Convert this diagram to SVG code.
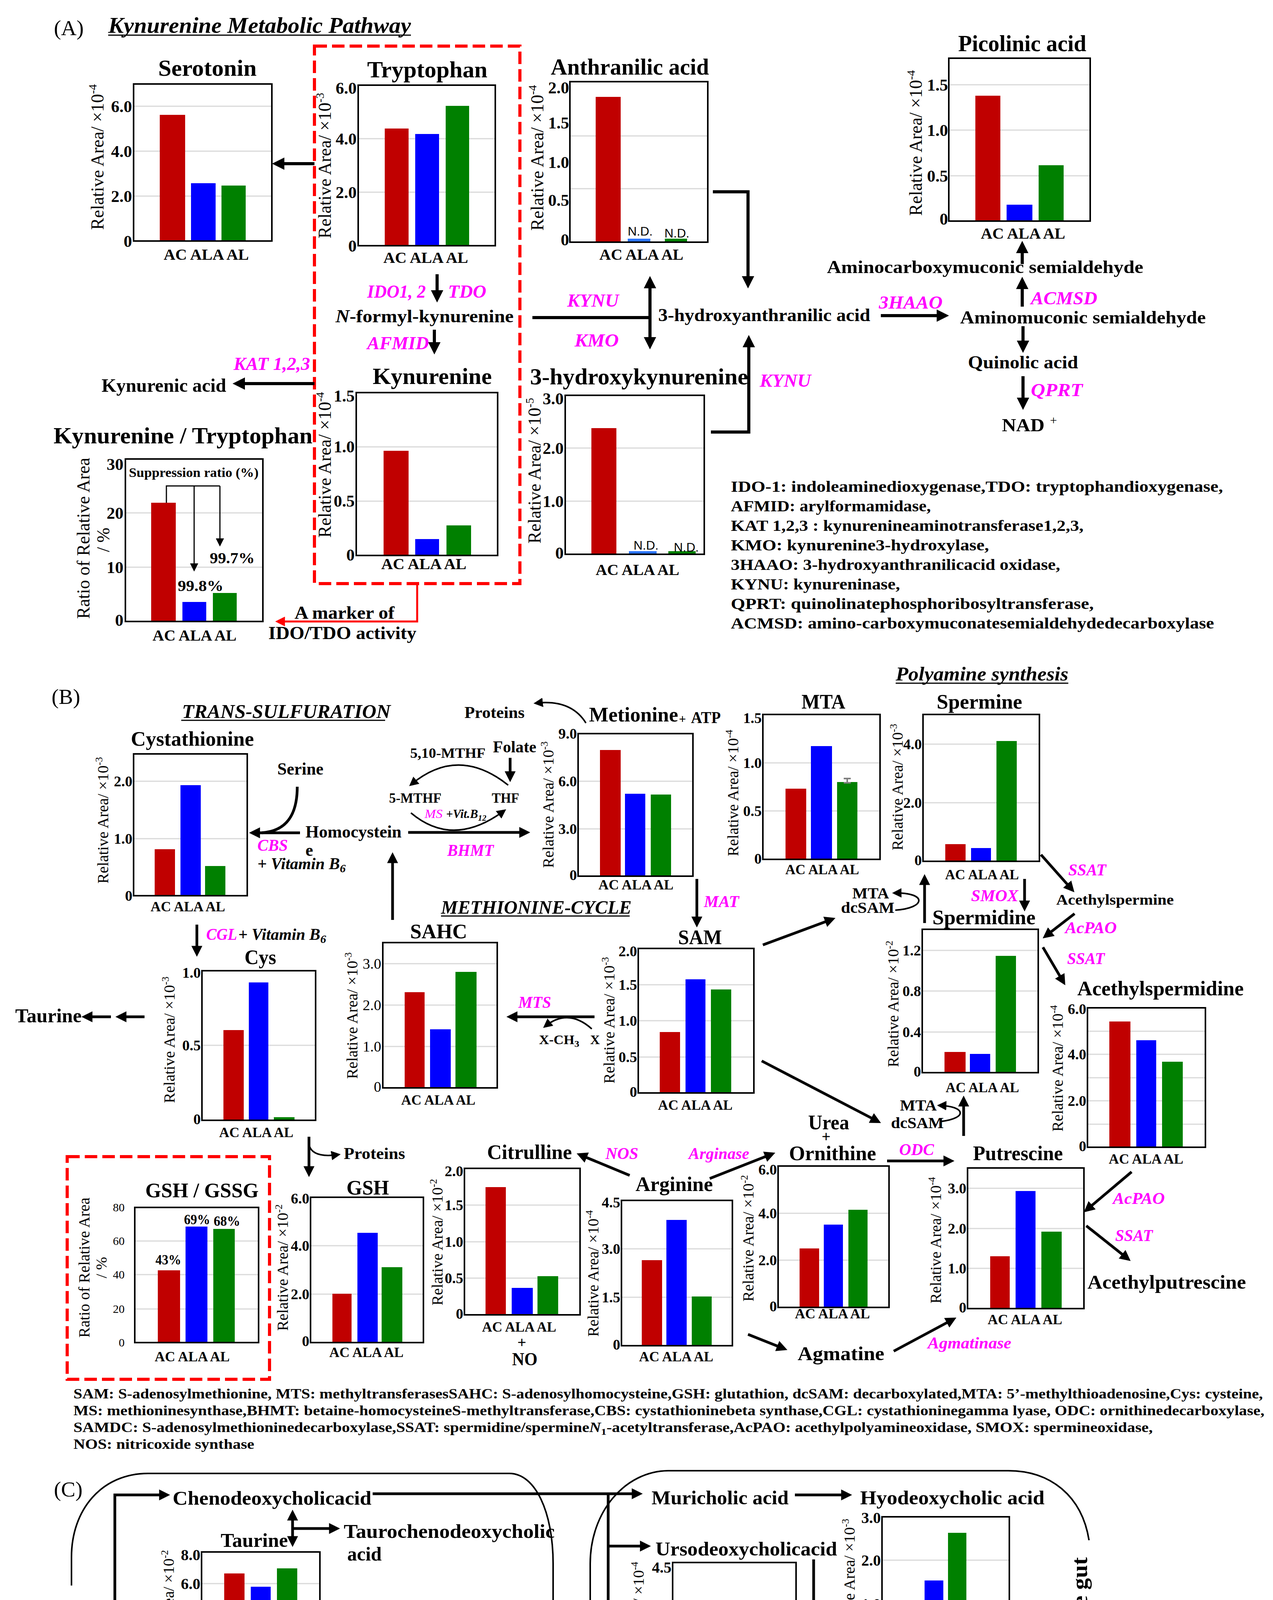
<svg xmlns="http://www.w3.org/2000/svg" width="3259" height="5348" viewBox="0 0 3259 5348">
<style>
text{font-family:"Liberation Serif","Times New Roman",serif;fill:#000}
.fr{fill:none;stroke:#000;stroke-width:4}
.gr{stroke:#d9d9d9;stroke-width:3;fill:none}
.r{fill:#c00000}.b{fill:#0000ff}.g{fill:#008000}.p{fill:#7030a0}.nb{fill:#2b74ff}
.tA{font-size:60px;font-weight:bold}
.tB{font-size:53px;font-weight:bold}
.tC{font-size:50px;font-weight:bold}
.kA{font-size:43px;font-weight:bold;text-anchor:end}
.kB{font-size:38px;font-weight:bold;text-anchor:end}
.kC{font-size:40px;font-weight:bold;text-anchor:end}
.kR{font-size:38px;text-anchor:end}
.kS{font-size:30px;text-anchor:end}
.yA{font-size:46px;text-anchor:middle}
.yB{font-size:40px;text-anchor:middle}
.xA{font-size:40px;font-weight:bold;text-anchor:middle}
.xB{font-size:35px;font-weight:bold;text-anchor:middle}
.en{fill:#ff00ff;font-weight:bold;font-style:italic}
.nl{font-weight:bold}
.bi{font-weight:bold;font-style:italic}
.lg{font-weight:bold}
.sans{font-family:"Liberation Sans",Arial,sans-serif}
.l8{fill:none;stroke:#000;stroke-width:8}
.l7{fill:none;stroke:#000;stroke-width:7}
.l4{fill:none;stroke:#000;stroke-width:4}
.l3{fill:none;stroke:#000;stroke-width:3}
.bx{fill:none;stroke:#000;stroke-width:4}
</style>
<defs>
<marker id="ah" viewBox="0 0 10 10" refX="7" refY="5" markerWidth="4" markerHeight="4" orient="auto-start-reverse"><path d="M0,0L10,5L0,10z"/></marker>
<marker id="ahm" viewBox="0 0 10 10" refX="7" refY="5" markerWidth="6" markerHeight="6" orient="auto-start-reverse"><path d="M0,0L10,5L0,10z"/></marker>
<marker id="ahs" viewBox="0 0 10 10" refX="8" refY="5" markerWidth="7" markerHeight="7" orient="auto"><path d="M0,0L10,5L0,10z"/></marker>
<marker id="ahr" viewBox="0 0 10 10" refX="7" refY="5" markerWidth="5" markerHeight="5" orient="auto"><path d="M0,0L10,5L0,10z" fill="#ff0000"/></marker>
</defs>
<rect width="3259" height="5348" fill="#fff"/>

<!-- ================= SECTION A ================= -->
<g id="sectionA-labels">
<text x="138" y="90" font-size="55">(A)</text>
<text class="bi" x="277" y="84" font-size="56" textLength="775" lengthAdjust="spacingAndGlyphs">Kynurenine Metabolic Pathway</text>
<path class="l3" d="M277 90H1052"/>
<text class="en" x="940" y="762" font-size="46" textLength="150" lengthAdjust="spacingAndGlyphs">IDO1, 2</text>
<text class="en" x="1147" y="762" font-size="46" textLength="98" lengthAdjust="spacingAndGlyphs">TDO</text>
<text class="nl" x="859" y="825" font-size="46" textLength="456" lengthAdjust="spacingAndGlyphs"><tspan font-style="italic">N</tspan>-formyl-kynurenine</text>
<text class="en" x="940" y="894" font-size="46" textLength="158" lengthAdjust="spacingAndGlyphs">AFMID</text>
<text class="nl" x="260" y="1003" font-size="48" textLength="319" lengthAdjust="spacingAndGlyphs">Kynurenic acid</text>
<text class="en" x="598" y="947" font-size="46" textLength="196" lengthAdjust="spacingAndGlyphs">KAT 1,2,3</text>
<text class="en" x="1452" y="785" font-size="46" textLength="132" lengthAdjust="spacingAndGlyphs">KYNU</text>
<text class="en" x="1471" y="887" font-size="46" textLength="113" lengthAdjust="spacingAndGlyphs">KMO</text>
<text class="nl" x="1685" y="822" font-size="46" textLength="543" lengthAdjust="spacingAndGlyphs">3-hydroxyanthranilic acid</text>
<text class="en" x="1945" y="990" font-size="46" textLength="131" lengthAdjust="spacingAndGlyphs">KYNU</text>
<text class="en" x="2250" y="790" font-size="46" textLength="163" lengthAdjust="spacingAndGlyphs">3HAAO</text>
<text class="nl" x="2117" y="699" font-size="46" textLength="810" lengthAdjust="spacingAndGlyphs">Aminocarboxymuconic semialdehyde</text>
<text class="en" x="2639" y="779" font-size="46" textLength="170" lengthAdjust="spacingAndGlyphs">ACMSD</text>
<text class="nl" x="2458" y="828" font-size="46" textLength="629" lengthAdjust="spacingAndGlyphs">Aminomuconic semialdehyde</text>
<text class="nl" x="2478" y="943" font-size="46" textLength="282" lengthAdjust="spacingAndGlyphs">Quinolic acid</text>
<text class="en" x="2639" y="1014" font-size="46" textLength="133" lengthAdjust="spacingAndGlyphs">QPRT</text>
<text class="nl" x="2565" y="1104" font-size="46" textLength="109" lengthAdjust="spacingAndGlyphs">NAD</text>
<text x="2688" y="1087" font-size="32">+</text>
<text class="nl" x="754" y="1584" font-size="46" textLength="256" lengthAdjust="spacingAndGlyphs">A marker of</text>
<text class="nl" x="687" y="1636" font-size="46" textLength="379" lengthAdjust="spacingAndGlyphs">IDO/TDO activity</text>
</g>
<g id="legendA" class="lg" font-size="41">
<text x="1871" y="1259" textLength="1260" lengthAdjust="spacingAndGlyphs">IDO-1: indoleaminedioxygenase,TDO: tryptophandioxygenase,</text>
<text x="1871" y="1309" textLength="512" lengthAdjust="spacingAndGlyphs">AFMID: arylformamidase,</text>
<text x="1871" y="1359" textLength="903" lengthAdjust="spacingAndGlyphs">KAT 1,2,3 : kynurenineaminotransferase1,2,3,</text>
<text x="1871" y="1409" textLength="661" lengthAdjust="spacingAndGlyphs">KMO: kynurenine3-hydroxylase,</text>
<text x="1871" y="1459" textLength="843" lengthAdjust="spacingAndGlyphs">3HAAO: 3-hydroxyanthranilicacid oxidase,</text>
<text x="1871" y="1509" textLength="433" lengthAdjust="spacingAndGlyphs">KYNU: kynureninase,</text>
<text x="1871" y="1559" textLength="929" lengthAdjust="spacingAndGlyphs">QPRT: quinolinatephosphoribosyltransferase,</text>
<text x="1871" y="1609" textLength="1237" lengthAdjust="spacingAndGlyphs">ACMSD: amino-carboxymuconatesemialdehydedecarboxylase</text>
</g>

<g id="serotonin">
<text class="tA" x="405" y="194" textLength="252" lengthAdjust="spacingAndGlyphs">Serotonin</text>
<path class="gr" d="M344 502H694M344 387H694M344 272H694"/>
<rect class="r" x="409" y="294" width="65" height="323"/><rect class="b" x="489" y="469" width="63" height="148"/><rect class="g" x="567" y="475" width="62" height="142"/>
<rect class="fr" x="342" y="215" width="354" height="402"/>
<text class="kA" x="338" y="632">0</text><text class="kA" x="338" y="517">2.0</text><text class="kA" x="338" y="402">4.0</text><text class="kA" x="338" y="287">6.0</text>
<text class="yA" transform="translate(249 402) rotate(-90)" y="16">Relative Area/ ×10<tspan dy="-18" font-size="30">-4</tspan></text>
<text class="xA" x="528" y="665" textLength="218" lengthAdjust="spacingAndGlyphs">AC ALA AL</text>
</g>

<g id="tryptophan">
<text class="tA" x="940" y="198" textLength="308" lengthAdjust="spacingAndGlyphs">Tryptophan</text>
<path class="gr" d="M919 492H1266M919 355H1266"/>
<rect class="r" x="985" y="329" width="61" height="300"/><rect class="b" x="1063" y="343" width="61" height="286"/><rect class="g" x="1141" y="271" width="60" height="358"/>
<rect class="fr" x="917" y="218" width="351" height="411"/>
<text class="kA" x="913" y="644">0</text><text class="kA" x="913" y="507">2.0</text><text class="kA" x="913" y="370">4.0</text><text class="kA" x="913" y="240">6.0</text>
<text class="yA" transform="translate(831 424) rotate(-90)" y="16">Relative Area/ ×10<tspan dy="-18" font-size="30">-3</tspan></text>
<text class="xA" x="1090" y="673" textLength="217" lengthAdjust="spacingAndGlyphs">AC ALA AL</text>
</g>

<g id="kynurenine">
<text class="tA" x="954" y="983" textLength="305" lengthAdjust="spacingAndGlyphs">Kynurenine</text>
<path class="gr" d="M914 1283H1272M914 1144H1272"/>
<rect class="r" x="982" y="1154" width="64" height="268"/><rect class="b" x="1063" y="1380" width="61" height="42"/><rect class="g" x="1143" y="1345" width="63" height="77"/>
<rect class="fr" x="912" y="1005" width="362" height="417"/>
<text class="kA" x="908" y="1435">0</text><text class="kA" x="908" y="1297">0.5</text><text class="kA" x="908" y="1158">1.0</text><text class="kA" x="908" y="1028">1.5</text>
<text class="yA" transform="translate(831 1190) rotate(-90)" y="16">Relative Area/ ×10<tspan dy="-18" font-size="30">-4</tspan></text>
<text class="xA" x="1085" y="1457" textLength="218" lengthAdjust="spacingAndGlyphs">AC ALA AL</text>
</g>

<g id="anthranilic">
<text class="tA" x="1410" y="191" textLength="405" lengthAdjust="spacingAndGlyphs">Anthranilic acid</text>
<path class="gr" d="M1461 348H1810M1461 483H1810"/>
<rect class="r" x="1525" y="248" width="64" height="372"/><rect class="nb" x="1607" y="611" width="58" height="9"/><rect class="g" x="1702" y="611" width="57" height="9"/>
<rect class="fr" x="1459" y="209" width="353" height="411"/>
<text class="sans" x="1607" y="603" font-size="32">N.D.</text><text class="sans" x="1701" y="608" font-size="32">N.D.</text>
<text class="kA" x="1457" y="239">2.0</text><text class="kA" x="1457" y="329">1.5</text><text class="kA" x="1457" y="430">1.0</text><text class="kA" x="1457" y="527">0.5</text><text class="kA" x="1457" y="628">0</text>
<text class="yA" transform="translate(1375 404) rotate(-90)" y="16">Relative Area/ ×10<tspan dy="-18" font-size="30">-4</tspan></text>
<text class="xA" x="1642" y="665" textLength="215" lengthAdjust="spacingAndGlyphs">AC ALA AL</text>
</g>

<g id="hydroxykynurenine">
<text class="tA" x="1357" y="984" textLength="558" lengthAdjust="spacingAndGlyphs">3-hydroxykynurenine</text>
<path class="gr" d="M1449 1147H1801M1449 1283H1801"/>
<rect class="r" x="1514" y="1096" width="64" height="323"/><rect class="nb" x="1610" y="1411" width="71" height="8"/><rect class="g" x="1711" y="1411" width="70" height="8"/>
<rect class="fr" x="1447" y="1012" width="356" height="407"/>
<text class="sans" x="1622" y="1407" font-size="32">N.D.</text><text class="sans" x="1725" y="1412" font-size="32">N.D.</text>
<text class="kA" x="1443" y="1035">3.0</text><text class="kA" x="1443" y="1162">2.0</text><text class="kA" x="1443" y="1298">1.0</text><text class="kA" x="1443" y="1430">0</text>
<text class="yA" transform="translate(1368 1205) rotate(-90)" y="16">Relative Area/ ×10<tspan dy="-18" font-size="30">-5</tspan></text>
<text class="xA" x="1632" y="1472" textLength="214" lengthAdjust="spacingAndGlyphs">AC ALA AL</text>
</g>

<g id="picolinic">
<text class="tA" x="2453" y="131" textLength="328" lengthAdjust="spacingAndGlyphs">Picolinic acid</text>
<path class="gr" d="M2431 217H2789M2431 333H2789M2431 450H2789"/>
<rect class="r" x="2497" y="245" width="64" height="321"/><rect class="b" x="2577" y="524" width="66" height="42"/><rect class="g" x="2659" y="423" width="64" height="143"/>
<rect class="fr" x="2429" y="149" width="362" height="417"/>
<text class="kA" x="2427" y="232">1.5</text><text class="kA" x="2427" y="348">1.0</text><text class="kA" x="2427" y="465">0.5</text><text class="kA" x="2427" y="575">0</text>
<text class="yA" transform="translate(2344 366) rotate(-90)" y="16">Relative Area/ ×10<tspan dy="-18" font-size="30">-4</tspan></text>
<text class="xA" x="2619" y="611" textLength="216" lengthAdjust="spacingAndGlyphs">AC ALA AL</text>
</g>

<g id="kyn-trp">
<text class="tA" x="137" y="1135" textLength="663" lengthAdjust="spacingAndGlyphs">Kynurenine / Tryptophan</text>
<path class="gr" d="M323 1452H671M323 1313H671"/>
<rect class="r" x="387" y="1287" width="63" height="304"/><rect class="b" x="467" y="1541" width="61" height="50"/><rect class="g" x="545" y="1518" width="61" height="73"/>
<rect class="fr" x="321" y="1175" width="352" height="416"/>
<text class="nl" x="330" y="1221" font-size="34" textLength="332" lengthAdjust="spacingAndGlyphs">Suppression ratio (%)</text>
<path class="l3" d="M426 1287V1244H563"/>
<path class="l3" d="M497 1244V1459" marker-end="url(#ahs)"/>
<path class="l3" d="M563 1244V1395" marker-end="url(#ahs)"/>
<text class="nl" x="455" y="1513" font-size="40" textLength="117" lengthAdjust="spacingAndGlyphs">99.8%</text>
<text class="nl" x="537" y="1442" font-size="40" textLength="115" lengthAdjust="spacingAndGlyphs">99.7%</text>
<text class="kA" x="316" y="1203">30</text><text class="kA" x="316" y="1328">20</text><text class="kA" x="316" y="1467">10</text><text class="kA" x="316" y="1602">0</text>
<text class="yA" transform="translate(214 1378) rotate(-90)" y="15" font-size="44">Ratio of Relative Area</text>
<text class="yA" transform="translate(267 1382) rotate(-90)" y="13" font-size="38">/ %</text>
<text class="xA" x="498" y="1640" textLength="215" lengthAdjust="spacingAndGlyphs">AC ALA AL</text>
</g>

<g id="ido-tdo-box">
<rect x="805" y="118" width="526" height="1376" fill="none" stroke="#ff0000" stroke-width="8" stroke-dasharray="32 13"/>
</g>

<g id="connectorsA">
<path class="l8" d="M805 419H706" marker-end="url(#ah)"/>
<path class="l8" d="M1119 702V765" marker-end="url(#ah)"/>
<path class="l8" d="M1112 844V898" marker-end="url(#ah)"/>
<path class="l8" d="M805 982H605" marker-end="url(#ah)"/>
<path class="l8" d="M1363 813H1664"/>
<path class="l8" d="M1664 716V885" marker-start="url(#ah)" marker-end="url(#ah)"/>
<path class="l8" d="M1825 491H1915V729" marker-end="url(#ah)"/>
<path class="l8" d="M1820 1106H1917V867" marker-end="url(#ah)"/>
<path class="l8" d="M2255 808H2420" marker-end="url(#ah)"/>
<path class="l8" d="M2617 785V718" marker-end="url(#ah)"/>
<path class="l8" d="M2617 676V626" marker-end="url(#ah)"/>
<path class="l8" d="M2619 835V894" marker-end="url(#ah)"/>
<path class="l8" d="M2619 963V1040" marker-end="url(#ah)"/>
<path d="M1068 1494V1591H712" fill="none" stroke="#ff0000" stroke-width="5" marker-end="url(#ahr)"/>
</g>

<!-- ================= SECTION B ================= -->
<g id="sectionB-labels">
<text x="132" y="1802" font-size="55">(B)</text>
<text class="bi" x="466" y="1838" font-size="50" textLength="534" lengthAdjust="spacingAndGlyphs">TRANS-SULFURATION</text>
<path class="l3" d="M464 1844H986"/>
<text class="nl" x="710" y="1983" font-size="44" textLength="118" lengthAdjust="spacingAndGlyphs">Serine</text>
<text class="en" x="659" y="2178" font-size="42" textLength="78" lengthAdjust="spacingAndGlyphs">CBS</text>
<text class="bi" x="659" y="2225" font-size="42" textLength="226" lengthAdjust="spacingAndGlyphs">+ Vitamin B<tspan dy="8" font-size="30">6</tspan></text>
<text class="nl" x="782" y="2144" font-size="44" textLength="246" lengthAdjust="spacingAndGlyphs">Homocystein</text>
<text class="nl" x="782" y="2191" font-size="44">e</text>
<text class="nl" x="1189" y="1838" font-size="42" textLength="154" lengthAdjust="spacingAndGlyphs">Proteins</text>
<text class="nl" x="1050" y="1940" font-size="36" textLength="193" lengthAdjust="spacingAndGlyphs">5,10-MTHF</text>
<text class="nl" x="1262" y="1926" font-size="42" textLength="111" lengthAdjust="spacingAndGlyphs">Folate</text>
<text class="nl" x="996" y="2055" font-size="35" textLength="134" lengthAdjust="spacingAndGlyphs">5-MTHF</text>
<text class="nl" x="1259" y="2055" font-size="35" textLength="70" lengthAdjust="spacingAndGlyphs">THF</text>
<text x="1087" y="2094" font-size="32" font-style="italic" fill="#ff00ff" style="fill:#ff00ff" textLength="46" lengthAdjust="spacingAndGlyphs">MS</text>
<text class="nl" x="1142" y="2094" font-size="32" font-style="italic" textLength="103" lengthAdjust="spacingAndGlyphs">+Vit.B<tspan dy="7" font-size="22">12</tspan></text>
<text class="en" x="1145" y="2191" font-size="42" textLength="119" lengthAdjust="spacingAndGlyphs">BHMT</text>
<text class="bi" x="1129" y="2339" font-size="48" textLength="488" lengthAdjust="spacingAndGlyphs">METHIONINE-CYCLE</text>
<path class="l3" d="M1129 2345H1612"/>
<text class="en" x="1802" y="2322" font-size="42" textLength="90" lengthAdjust="spacingAndGlyphs">MAT</text>
<text class="en" x="1327" y="2580" font-size="42" textLength="84" lengthAdjust="spacingAndGlyphs">MTS</text>
<text class="nl" x="1380" y="2673" font-size="34" textLength="103" lengthAdjust="spacingAndGlyphs">X-CH<tspan dy="7" font-size="24">3</tspan></text>
<text class="nl" x="1511" y="2673" font-size="34">X</text>
<text class="en" x="528" y="2406" font-size="42" textLength="79" lengthAdjust="spacingAndGlyphs">CGL</text>
<text class="bi" x="610" y="2406" font-size="42" textLength="225" lengthAdjust="spacingAndGlyphs">+ Vitamin B<tspan dy="8" font-size="30">6</tspan></text>
<text class="nl" x="39" y="2617" font-size="50" textLength="170" lengthAdjust="spacingAndGlyphs">Taurine</text>
<text class="nl" x="880" y="2967" font-size="42" textLength="157" lengthAdjust="spacingAndGlyphs">Proteins</text>
<text class="bi" x="2293" y="1742" font-size="50" textLength="442" lengthAdjust="spacingAndGlyphs">Polyamine synthesis</text>
<path class="l3" d="M2293 1749H2735"/>
<text class="nl" x="2182" y="2300" font-size="40" textLength="94" lengthAdjust="spacingAndGlyphs">MTA</text>
<text class="nl" x="2153" y="2337" font-size="40" textLength="137" lengthAdjust="spacingAndGlyphs">dcSAM</text>
<text class="en" x="2735" y="2241" font-size="42" textLength="97" lengthAdjust="spacingAndGlyphs">SSAT</text>
<text class="nl" x="2704" y="2316" font-size="38" textLength="301" lengthAdjust="spacingAndGlyphs">Acethylspermine</text>
<text class="en" x="2727" y="2389" font-size="42" textLength="132" lengthAdjust="spacingAndGlyphs">AcPAO</text>
<text class="en" x="2486" y="2307" font-size="42" textLength="121" lengthAdjust="spacingAndGlyphs">SMOX</text>
<text class="en" x="2732" y="2468" font-size="42" textLength="96" lengthAdjust="spacingAndGlyphs">SSAT</text>
<text class="en" x="1550" y="2967" font-size="42" textLength="84" lengthAdjust="spacingAndGlyphs">NOS</text>
<text class="en" x="1763" y="2967" font-size="42" textLength="155" lengthAdjust="spacingAndGlyphs">Arginase</text>
<text class="nl" x="2042" y="3482" font-size="50" textLength="222" lengthAdjust="spacingAndGlyphs">Agmatine</text>
<text class="nl" x="2304" y="2843" font-size="40" textLength="94" lengthAdjust="spacingAndGlyphs">MTA</text>
<text class="nl" x="2281" y="2888" font-size="40" textLength="135" lengthAdjust="spacingAndGlyphs">dcSAM</text>
<text class="en" x="2302" y="2957" font-size="42" textLength="89" lengthAdjust="spacingAndGlyphs">ODC</text>
<text class="en" x="2849" y="3082" font-size="42" textLength="133" lengthAdjust="spacingAndGlyphs">AcPAO</text>
<text class="en" x="2855" y="3177" font-size="42" textLength="96" lengthAdjust="spacingAndGlyphs">SSAT</text>
<text class="nl" x="2784" y="3299" font-size="50" textLength="406" lengthAdjust="spacingAndGlyphs">Acethylputrescine</text>
<text class="en" x="2375" y="3452" font-size="42" textLength="214" lengthAdjust="spacingAndGlyphs">Agmatinase</text>
</g>
<g id="legendB" class="lg" font-size="35">
<text x="188" y="3580" textLength="3045" lengthAdjust="spacingAndGlyphs">SAM: S-adenosylmethionine, MTS: methyltransferasesSAHC: S-adenosylhomocysteine,GSH: glutathion, dcSAM: decarboxylated,MTA: 5’-methylthioadenosine,Cys: cysteine,</text>
<text x="188" y="3623" textLength="3049" lengthAdjust="spacingAndGlyphs">MS: methioninesynthase,BHMT: betaine-homocysteineS-methyltransferase,CBS: cystathioninebeta synthase,CGL: cystathioninegamma lyase, ODC: ornithinedecarboxylase,</text>
<text x="188" y="3666" textLength="2763" lengthAdjust="spacingAndGlyphs">SAMDC: S-adenosylmethioninedecarboxylase,SSAT: spermidine/spermine<tspan font-style="italic">N</tspan><tspan dy="7" font-size="24">1</tspan><tspan dy="-7">-acetyltransferase,AcPAO: acethylpolyamineoxidase, SMOX: spermineoxidase,</tspan></text>
<text x="188" y="3709" textLength="463" lengthAdjust="spacingAndGlyphs">NOS: nitricoxide synthase</text>
</g>

<g id="cystathionine">
<text class="tB" x="335" y="1909" textLength="315" lengthAdjust="spacingAndGlyphs">Cystathionine</text>
<path class="gr" d="M344 2147H631M344 2000H631"/>
<rect class="r" x="396" y="2174" width="52" height="119"/><rect class="b" x="462" y="2010" width="52" height="283"/><rect class="g" x="525" y="2217" width="52" height="76"/>
<rect class="fr" x="342" y="1930" width="291" height="363"/>
<text class="kB" x="339" y="2013">2.0</text><text class="kB" x="339" y="2160">1.0</text><text class="kB" x="339" y="2306">0</text>
<text class="yB" transform="translate(263 2100) rotate(-90)" y="14">Relative Area/ ×10<tspan dy="-15" font-size="26">-3</tspan></text>
<text class="xB" x="481" y="2333" textLength="191" lengthAdjust="spacingAndGlyphs">AC ALA AL</text>
</g>

<g id="cys">
<text class="tB" x="626" y="2468" textLength="81" lengthAdjust="spacingAndGlyphs">Cys</text>
<path class="gr" d="M519 2676H806"/>
<rect class="r" x="572" y="2637" width="52" height="231"/><rect class="b" x="637" y="2515" width="50" height="353"/><rect class="g" x="701" y="2860" width="53" height="8"/>
<rect class="fr" x="517" y="2485" width="291" height="383"/>
<text class="kB" x="514" y="2503">1.0</text><text class="kB" x="514" y="2689">0.5</text><text class="kB" x="514" y="2878">0</text>
<text class="yB" transform="translate(433 2662) rotate(-90)" y="14">Relative Area/ ×10<tspan dy="-15" font-size="26">-3</tspan></text>
<text class="xB" x="656" y="2911" textLength="190" lengthAdjust="spacingAndGlyphs">AC ALA AL</text>
</g>

<g id="sahc">
<text class="tB" x="1050" y="2402" textLength="146" lengthAdjust="spacingAndGlyphs">SAHC</text>
<path class="gr" d="M982 2679H1271M982 2573H1271M982 2467H1271"/>
<rect class="r" x="1036" y="2540" width="51" height="245"/><rect class="b" x="1101" y="2635" width="53" height="150"/><rect class="g" x="1166" y="2488" width="54" height="297"/>
<rect class="fr" x="980" y="2413" width="293" height="372"/>
<text class="kR" x="976" y="2480">3.0</text><text class="kR" x="976" y="2586">2.0</text><text class="kR" x="976" y="2692">1.0</text><text class="kR" x="976" y="2795">0</text>
<text class="yB" transform="translate(901 2600) rotate(-90)" y="14">Relative Area/ ×10<tspan dy="-15" font-size="26">-3</tspan></text>
<text class="xB" x="1122" y="2828" textLength="190" lengthAdjust="spacingAndGlyphs">AC ALA AL</text>
</g>

<g id="metionine">
<text class="tB" x="1508" y="1847" textLength="228" lengthAdjust="spacingAndGlyphs">Metionine</text>
<text class="nl" x="1738" y="1851" font-size="32">+</text>
<text class="nl" x="1769" y="1851" font-size="42" textLength="76" lengthAdjust="spacingAndGlyphs">ATP</text>
<path class="gr" d="M1482 2122H1772M1482 2000H1772"/>
<rect class="r" x="1536" y="1920" width="53" height="323"/><rect class="b" x="1600" y="2032" width="52" height="211"/><rect class="g" x="1666" y="2034" width="52" height="209"/>
<rect class="fr" x="1480" y="1878" width="294" height="365"/>
<text class="kB" x="1477" y="1891">9.0</text><text class="kB" x="1477" y="2013">6.0</text><text class="kB" x="1477" y="2135">3.0</text><text class="kB" x="1477" y="2253">0</text>
<text class="yB" transform="translate(1403 2060) rotate(-90)" y="14">Relative Area/ ×10<tspan dy="-15" font-size="26">-3</tspan></text>
<text class="xB" x="1628" y="2277" textLength="192" lengthAdjust="spacingAndGlyphs">AC ALA AL</text>
</g>

<g id="sam">
<text class="tB" x="1736" y="2417" textLength="112" lengthAdjust="spacingAndGlyphs">SAM</text>
<path class="gr" d="M1636 2706H1928M1636 2613H1928M1636 2521H1928"/>
<rect class="r" x="1689" y="2642" width="52" height="156"/><rect class="b" x="1755" y="2507" width="51" height="291"/><rect class="g" x="1820" y="2533" width="52" height="265"/>
<rect class="fr" x="1634" y="2428" width="296" height="370"/>
<text class="kB" x="1631" y="2448">2.0</text><text class="kB" x="1631" y="2534">1.5</text><text class="kB" x="1631" y="2626">1.0</text><text class="kB" x="1631" y="2719">0.5</text><text class="kB" x="1631" y="2808">0</text>
<text class="yB" transform="translate(1559 2612) rotate(-90)" y="14">Relative Area/ ×10<tspan dy="-15" font-size="26">-3</tspan></text>
<text class="xB" x="1780" y="2841" textLength="191" lengthAdjust="spacingAndGlyphs">AC ALA AL</text>
</g>

<g id="mta">
<text class="tB" x="2052" y="1814" textLength="112" lengthAdjust="spacingAndGlyphs">MTA</text>
<path class="gr" d="M1955 2076H2251M1955 1953H2251"/>
<rect class="r" x="2011" y="2019" width="53" height="181"/><rect class="b" x="2076" y="1910" width="54" height="290"/><rect class="g" x="2143" y="2002" width="52" height="198"/>
<path d="M2169 1993V2004M2160 1993H2178M2160 2004H2178" stroke="#7f7f7f" stroke-width="4" fill="none"/>
<rect class="fr" x="1953" y="1829" width="300" height="371"/>
<text class="kB" x="1950" y="1851">1.5</text><text class="kB" x="1950" y="1966">1.0</text><text class="kB" x="1950" y="2089">0.5</text><text class="kB" x="1950" y="2211">0</text>
<text class="yB" transform="translate(1876 2030) rotate(-90)" y="14">Relative Area/ ×10<tspan dy="-15" font-size="26">-4</tspan></text>
<text class="xB" x="2105" y="2238" textLength="189" lengthAdjust="spacingAndGlyphs">AC ALA AL</text>
</g>

<g id="spermine">
<text class="tB" x="2398" y="1814" textLength="219" lengthAdjust="spacingAndGlyphs">Spermine</text>
<path class="gr" d="M2365 2055H2659M2365 1905H2659"/>
<rect class="r" x="2420" y="2161" width="52" height="44"/><rect class="b" x="2486" y="2171" width="51" height="34"/><rect class="g" x="2551" y="1897" width="52" height="308"/>
<rect class="fr" x="2363" y="1829" width="298" height="376"/>
<text class="kB" x="2360" y="1918">4.0</text><text class="kB" x="2360" y="2068">2.0</text><text class="kB" x="2360" y="2215">0</text>
<text class="yB" transform="translate(2297 2015) rotate(-90)" y="14">Relative Area/ ×10<tspan dy="-15" font-size="26">-3</tspan></text>
<text class="xB" x="2514" y="2251" textLength="189" lengthAdjust="spacingAndGlyphs">AC ALA AL</text>
</g>

<g id="spermidine">
<text class="tB" x="2387" y="2366" textLength="264" lengthAdjust="spacingAndGlyphs">Spermidine</text>
<path class="gr" d="M2363 2642H2656M2363 2537H2656M2363 2433H2656"/>
<rect class="r" x="2418" y="2693" width="54" height="53"/><rect class="b" x="2483" y="2698" width="52" height="48"/><rect class="g" x="2549" y="2447" width="52" height="299"/>
<rect class="fr" x="2361" y="2379" width="297" height="367"/>
<text class="kB" x="2358" y="2446">1.2</text><text class="kB" x="2358" y="2550">0.8</text><text class="kB" x="2358" y="2655">0.4</text><text class="kB" x="2358" y="2756">0</text>
<text class="yB" transform="translate(2286 2570) rotate(-90)" y="14">Relative Area/ ×10<tspan dy="-15" font-size="26">-2</tspan></text>
<text class="xB" x="2515" y="2796" textLength="188" lengthAdjust="spacingAndGlyphs">AC ALA AL</text>
</g>

<g id="acethylspermidine">
<text class="tB" x="2758" y="2548" textLength="426" lengthAdjust="spacingAndGlyphs">Acethylspermidine</text>
<path class="gr" d="M2786 2878H3084M2786 2818H3084M2786 2759H3084M2786 2699H3084M2786 2640H3084"/>
<rect class="r" x="2840" y="2615" width="54" height="322"/><rect class="b" x="2909" y="2663" width="51" height="274"/><rect class="g" x="2975" y="2718" width="53" height="219"/>
<rect class="fr" x="2784" y="2580" width="302" height="357"/>
<text class="kB" x="2781" y="2596">6.0</text><text class="kB" x="2781" y="2712">4.0</text><text class="kB" x="2781" y="2831">2.0</text><text class="kB" x="2781" y="2947">0</text>
<text class="yB" transform="translate(2707 2735) rotate(-90)" y="14">Relative Area/ ×10<tspan dy="-15" font-size="26">-4</tspan></text>
<text class="xB" x="2934" y="2979" textLength="191" lengthAdjust="spacingAndGlyphs">AC ALA AL</text>
</g>

<g id="gsh-gssg">
<rect x="172" y="2961" width="518" height="570" fill="none" stroke="#ff0000" stroke-width="8" stroke-dasharray="32 13"/>
<text class="tB" x="372" y="3065" textLength="290" lengthAdjust="spacingAndGlyphs">GSH / GSSG</text>
<path class="gr" d="M347 3177H660M347 3263H660M347 3351H660"/>
<rect class="r" x="404" y="3252" width="57" height="185"/><rect class="b" x="475" y="3140" width="56" height="297"/><rect class="g" x="546" y="3146" width="55" height="291"/>
<rect class="fr" x="345" y="3091" width="317" height="346"/>
<text class="nl" x="398" y="3237" font-size="36" textLength="66" lengthAdjust="spacingAndGlyphs">43%</text>
<text class="nl" x="471" y="3134" font-size="36" textLength="67" lengthAdjust="spacingAndGlyphs">69%</text>
<text class="nl" x="547" y="3138" font-size="36" textLength="68" lengthAdjust="spacingAndGlyphs">68%</text>
<text class="kS" x="319" y="3101">80</text><text class="kS" x="319" y="3187">60</text><text class="kS" x="319" y="3273">40</text><text class="kS" x="319" y="3361">20</text><text class="kS" x="319" y="3447">0</text>
<text class="yB" transform="translate(215 3245) rotate(-90)" y="14">Ratio of Relative Area</text>
<text class="yB" transform="translate(260 3245) rotate(-90)" y="13" font-size="36">/ %</text>
<text class="xB" x="492" y="3485" textLength="192" lengthAdjust="spacingAndGlyphs">AC ALA AL</text>
</g>

<g id="gsh">
<text class="tB" x="887" y="3058" textLength="109" lengthAdjust="spacingAndGlyphs">GSH</text>
<path class="gr" d="M797 3313H1082M797 3189H1082"/>
<rect class="r" x="851" y="3312" width="49" height="125"/><rect class="b" x="915" y="3156" width="52" height="281"/><rect class="g" x="977" y="3244" width="53" height="193"/>
<rect class="fr" x="795" y="3065" width="289" height="372"/>
<text class="kB" x="792" y="3081">6.0</text><text class="kB" x="792" y="3202">4.0</text><text class="kB" x="792" y="3326">2.0</text><text class="kB" x="792" y="3446">0</text>
<text class="yB" transform="translate(723 3245) rotate(-90)" y="14">Relative Area/ ×10<tspan dy="-15" font-size="26">-2</tspan></text>
<text class="xB" x="938" y="3474" textLength="190" lengthAdjust="spacingAndGlyphs">AC ALA AL</text>
</g>

<g id="citrulline">
<text class="tB" x="1247" y="2967" textLength="217" lengthAdjust="spacingAndGlyphs">Citrulline</text>
<path class="gr" d="M1191 3272H1483M1191 3179H1483M1191 3085H1483"/>
<rect class="r" x="1243" y="3039" width="52" height="327"/><rect class="b" x="1310" y="3297" width="54" height="69"/><rect class="g" x="1376" y="3267" width="53" height="99"/>
<rect class="fr" x="1189" y="2991" width="296" height="375"/>
<text class="kB" x="1186" y="3011">2.0</text><text class="kB" x="1186" y="3098">1.5</text><text class="kB" x="1186" y="3192">1.0</text><text class="kB" x="1186" y="3285">0.5</text><text class="kB" x="1186" y="3376">0</text>
<text class="yB" transform="translate(1119 3180) rotate(-90)" y="14">Relative Area/ ×10<tspan dy="-15" font-size="26">-2</tspan></text>
<text class="xB" x="1329" y="3409" textLength="190" lengthAdjust="spacingAndGlyphs">AC ALA AL</text>
<text class="nl" x="1336" y="3450" font-size="40" text-anchor="middle">+</text>
<text class="nl" x="1311" y="3495" font-size="46" textLength="65" lengthAdjust="spacingAndGlyphs">NO</text>
</g>

<g id="arginine">
<text class="tB" x="1627" y="3049" textLength="198" lengthAdjust="spacingAndGlyphs">Arginine</text>
<path class="gr" d="M1593 3321H1873M1593 3197H1873"/>
<rect class="r" x="1643" y="3226" width="52" height="219"/><rect class="b" x="1706" y="3123" width="52" height="322"/><rect class="g" x="1771" y="3319" width="51" height="126"/>
<rect class="fr" x="1591" y="3073" width="284" height="372"/>
<text class="kB" x="1588" y="3091">4.5</text><text class="kB" x="1588" y="3210">3.0</text><text class="kB" x="1588" y="3334">1.5</text><text class="kB" x="1588" y="3455">0</text>
<text class="yB" transform="translate(1518 3260) rotate(-90)" y="14">Relative Area/ ×10<tspan dy="-15" font-size="26">-4</tspan></text>
<text class="xB" x="1731" y="3485" textLength="190" lengthAdjust="spacingAndGlyphs">AC ALA AL</text>
</g>

<g id="ornithine">
<text class="tB" x="2069" y="2891" textLength="105" lengthAdjust="spacingAndGlyphs">Urea</text>
<text class="nl" x="2115" y="2923" font-size="40" text-anchor="middle">+</text>
<text class="tB" x="2020" y="2970" textLength="223" lengthAdjust="spacingAndGlyphs">Ornithine</text>
<path class="gr" d="M1994 3226H2274M1994 3106H2274"/>
<rect class="r" x="2047" y="3196" width="50" height="151"/><rect class="b" x="2109" y="3135" width="49" height="212"/><rect class="g" x="2172" y="3097" width="49" height="250"/>
<rect class="fr" x="1992" y="2985" width="284" height="362"/>
<text class="kB" x="1989" y="3007">6.0</text><text class="kB" x="1989" y="3119">4.0</text><text class="kB" x="1989" y="3239">2.0</text><text class="kB" x="1989" y="3357">0</text>
<text class="yB" transform="translate(1915 3170) rotate(-90)" y="14">Relative Area/ ×10<tspan dy="-15" font-size="26">-2</tspan></text>
<text class="xB" x="2131" y="3375" textLength="192" lengthAdjust="spacingAndGlyphs">AC ALA AL</text>
</g>

<g id="putrescine">
<text class="tB" x="2491" y="2970" textLength="230" lengthAdjust="spacingAndGlyphs">Putrescine</text>
<path class="gr" d="M2479 3247H2773M2479 3145H2773M2479 3042H2773"/>
<rect class="r" x="2535" y="3216" width="50" height="134"/><rect class="b" x="2600" y="3049" width="51" height="301"/><rect class="g" x="2666" y="3153" width="52" height="197"/>
<rect class="fr" x="2477" y="2990" width="298" height="360"/>
<text class="kB" x="2474" y="3055">3.0</text><text class="kB" x="2474" y="3158">2.0</text><text class="kB" x="2474" y="3260">1.0</text><text class="kB" x="2474" y="3360">0</text>
<text class="yB" transform="translate(2395 3175) rotate(-90)" y="14">Relative Area/ ×10<tspan dy="-15" font-size="26">-4</tspan></text>
<text class="xB" x="2624" y="3390" textLength="191" lengthAdjust="spacingAndGlyphs">AC ALA AL</text>
</g>

<g id="connectorsB">
<path class="l4" d="M1500 1851Q1462 1790 1373 1800" marker-end="url(#ahm)" stroke-width="6"/>
<path class="l7" d="M1306 1940V1994" marker-end="url(#ah)"/>
<path class="l4" d="M1301 2010Q1173 1908 1053 2008" marker-end="url(#ahm)"/>
<path class="l4" d="M1052 2081Q1160 2172 1290 2076" marker-end="url(#ahm)"/>
<path class="l7" d="M1045 2131H1349" marker-end="url(#ah)"/>
<path class="l7" d="M768 2132H646" marker-end="url(#ah)"/>
<path class="l7" d="M761 2014C761 2090 730 2128 670 2132"/>
<path class="l7" d="M1005 2355V2190" marker-end="url(#ah)"/>
<path class="l7" d="M1784 2250V2366" marker-end="url(#ah)"/>
<path class="l7" d="M1522 2603H1305" marker-end="url(#ah)"/>
<path class="l4" d="M1515 2634Q1455 2580 1396 2627" marker-end="url(#ahm)"/>
<path class="l7" d="M504 2367V2441" marker-end="url(#ah)"/>
<path class="l7" d="M284 2603H217" marker-end="url(#ah)"/>
<path class="l7" d="M370 2603H304" marker-end="url(#ah)"/>
<path class="l7" d="M791 2910V3005" marker-end="url(#ah)"/>
<path class="l4" d="M791 2931Q800 2965 865 2956" stroke-width="5" marker-end="url(#ahm)"/>
<path class="l7" d="M1953 2419L2131 2353" marker-end="url(#ah)"/>
<path class="l4" d="M2292 2330C2370 2325 2375 2285 2291 2286" marker-end="url(#ahm)"/>
<path class="l7" d="M2367 2363V2246" marker-end="url(#ah)"/>
<path class="l7" d="M2623 2250V2325" marker-end="url(#ah)"/>
<path class="l7" d="M2665 2188L2745 2278" marker-end="url(#ah)"/>
<path class="l7" d="M2751 2339L2676 2397" marker-end="url(#ah)"/>
<path class="l7" d="M2670 2425L2723 2515" marker-end="url(#ah)"/>
<path class="l7" d="M1612 3009L1484 2956" marker-end="url(#ah)"/>
<path class="l7" d="M1817 3017L1977 2954" marker-end="url(#ah)"/>
<path class="l7" d="M1915 3416L2008 3453" marker-end="url(#ah)"/>
<path class="l7" d="M1950 2716L2248 2871" marker-end="url(#ah)"/>
<path class="l4" d="M2409 2871C2480 2862 2470 2832 2406 2830" marker-end="url(#ahm)"/>
<path class="l7" d="M2467 2908V2813" marker-end="url(#ah)"/>
<path class="l7" d="M2271 2972H2435" marker-end="url(#ah)"/>
<path class="l7" d="M2288 3459L2441 3377" marker-end="url(#ah)"/>
<path class="l7" d="M2897 3000L2781 3098" marker-end="url(#ah)"/>
<path class="l7" d="M2781 3138L2888 3223" marker-end="url(#ah)"/>
</g>

<!-- ================= SECTION C ================= -->
<g id="sectionC-boxes">
<path class="bx" d="M183 4059V3986C183 3865 260 3772 379 3772H1304C1370 3772 1416 3870 1416 4003V5116C1416 5240 1340 5321 1220 5321H386C260 5321 184 5240 184 5146"/>
<path class="bx" d="M2788 3943C2770 3830 2690 3765 2581 3765H1711C1600 3766 1511 3870 1511 4003V5107C1511 5230 1600 5312 1711 5312H2581C2690 5312 2765 5240 2777 5155"/>
</g>
<g id="sectionC-labels">
<text x="138" y="3831" font-size="55">(C)</text>
<text class="nl" transform="translate(191 4603) rotate(-90)" font-size="54" text-anchor="middle" textLength="974" lengthAdjust="spacingAndGlyphs">Primary bile acid synthesis in the liver</text>
<text class="nl" transform="translate(2783 4545) rotate(-90)" font-size="56" text-anchor="middle" textLength="1117" lengthAdjust="spacingAndGlyphs">Secondary bile acid modifications in the gut</text>
<text class="nl" transform="translate(2851 4550) rotate(-90)" font-size="56" text-anchor="middle" textLength="299" lengthAdjust="spacingAndGlyphs">microbiome</text>
<text class="nl" transform="translate(312 4350) rotate(-90)" font-size="52" text-anchor="middle" textLength="259" lengthAdjust="spacingAndGlyphs">Cholesterol</text>
<text class="nl" x="442" y="3852" font-size="50" textLength="509" lengthAdjust="spacingAndGlyphs">Chenodeoxycholicacid</text>
<text class="nl" x="880" y="3937" font-size="50" textLength="540" lengthAdjust="spacingAndGlyphs">Taurochenodeoxycholic</text>
<text class="nl" x="889" y="3995" font-size="50" textLength="88" lengthAdjust="spacingAndGlyphs">acid</text>
<text class="nl" x="1668" y="3851" font-size="50" textLength="351" lengthAdjust="spacingAndGlyphs">Muricholic acid</text>
<text class="nl" x="2202" y="3851" font-size="50" textLength="472" lengthAdjust="spacingAndGlyphs">Hyodeoxycholic acid</text>
<text class="nl" x="1678" y="3982" font-size="50" textLength="465" lengthAdjust="spacingAndGlyphs">Ursodeoxycholicacid</text>
<text class="nl" x="1742" y="4440" font-size="50" textLength="355" lengthAdjust="spacingAndGlyphs">Lithocholic acid</text>
<text class="nl" x="1685" y="4880" font-size="50" textLength="381" lengthAdjust="spacingAndGlyphs">Deoxycholic acid</text>
<text class="nl" x="2316" y="4341" font-size="50" textLength="175" lengthAdjust="spacingAndGlyphs">Taurine</text>
<text class="nl" x="2398" y="4381" font-size="40" text-anchor="middle">+</text>
<text class="nl" x="2130" y="4408" font-size="50" textLength="580" lengthAdjust="spacingAndGlyphs">Tauroursodeoxycholicacid</text>
<text class="nl" x="2339" y="4856" font-size="50" textLength="175" lengthAdjust="spacingAndGlyphs">Taurine</text>
<text class="nl" x="2402" y="4892" font-size="40" text-anchor="middle">+</text>
<text class="nl" x="2224" y="4911" font-size="50" textLength="490" lengthAdjust="spacingAndGlyphs">Taurodeoxycholicacid</text>
</g>

<g id="taurineC">
<text class="tC" x="565" y="3960" textLength="172" lengthAdjust="spacingAndGlyphs">Taurine</text>
<path class="gr" d="M518 4218H817M518 4136H817M518 4054H817"/>
<rect class="r" x="574" y="4028" width="52" height="272"/><rect class="b" x="642" y="4062" width="51" height="238"/><rect class="g" x="709" y="4015" width="52" height="285"/>
<rect class="fr" x="516" y="3973" width="303" height="327"/>
<text class="kC" x="513" y="3994">8.0</text><text class="kC" x="513" y="4068">6.0</text><text class="kC" x="513" y="4150">4.0</text><text class="kC" x="513" y="4232">2.0</text><text class="kC" x="513" y="4312">0</text>
<text class="yB" transform="translate(431 4130) rotate(-90)" y="14">Relative Area/ ×10<tspan dy="-15" font-size="26">-2</tspan></text>
<text class="xB" x="660" y="4347" textLength="193" lengthAdjust="spacingAndGlyphs">AC ALA AL</text>
</g>

<g id="taurocholic">
<text class="tC" x="1020" y="4211" textLength="372" lengthAdjust="spacingAndGlyphs">Taurocholic acid</text>
<path class="gr" d="M1052 4488H1368M1052 4409H1368M1052 4329H1368"/>
<rect class="r" x="1110" y="4338" width="58" height="230"/><rect class="b" x="1182" y="4501" width="56" height="67"/><rect class="g" x="1252" y="4516" width="58" height="52"/>
<rect class="fr" x="1050" y="4250" width="320" height="318"/>
<path class="l3" d="M1150 4300H1306"/>
<path class="l3" d="M1225 4414V4312" marker-end="url(#ahs)"/>
<path class="l3" d="M1305 4453V4307" marker-end="url(#ahs)"/>
<text class="nl" x="1185" y="4451" font-size="34" textLength="97" lengthAdjust="spacingAndGlyphs">350 %</text>
<text class="nl" x="1257" y="4495" font-size="34" textLength="96" lengthAdjust="spacingAndGlyphs">280 %</text>
<text class="kC" x="1047" y="4268">2.0</text><text class="kC" x="1047" y="4343">1.5</text><text class="kC" x="1047" y="4423">1.0</text><text class="kC" x="1047" y="4502">0.5</text><text class="kC" x="1047" y="4580">0</text>
<text class="yB" transform="translate(968 4410) rotate(-90)" y="14">Relative Area/ ×10<tspan dy="-15" font-size="26">-1</tspan></text>
<text class="xB" x="1213" y="4615" textLength="195" lengthAdjust="spacingAndGlyphs">AC ALA AL</text>
</g>

<g id="cholic">
<text class="tC" x="518" y="4462" textLength="250" lengthAdjust="spacingAndGlyphs">Cholic acid</text>
<path class="gr" d="M502 4694H808M502 4589H808"/>
<rect class="r" x="559" y="4553" width="55" height="245"/><rect class="b" x="626" y="4758" width="56" height="40"/><rect class="g" x="696" y="4785" width="55" height="13"/>
<rect class="fr" x="500" y="4485" width="310" height="313"/>
<path class="l3" d="M589 4516H745"/>
<path class="l3" d="M666 4628V4528" marker-end="url(#ahs)"/>
<path class="l3" d="M745 4670V4526" marker-end="url(#ahs)"/>
<text class="nl" x="630" y="4693" font-size="34" textLength="95" lengthAdjust="spacingAndGlyphs">626 %</text>
<text class="nl" x="703" y="4737" font-size="34" textLength="114" lengthAdjust="spacingAndGlyphs">2238 %</text>
<text class="kC" x="497" y="4504">6.0</text><text class="kC" x="497" y="4603">4.0</text><text class="kC" x="497" y="4708">2.0</text><text class="kC" x="497" y="4810">0</text>
<text class="yB" transform="translate(414 4640) rotate(-90)" y="14">Relative Area/ ×10<tspan dy="-15" font-size="26">-3</tspan></text>
<text class="xB" x="662" y="4828" textLength="194" lengthAdjust="spacingAndGlyphs">AC ALA AL</text>
</g>

<g id="glycine">
<text class="tC" x="570" y="4924" textLength="174" lengthAdjust="spacingAndGlyphs">Glycine</text>
<path class="gr" d="M507 5161H829M507 5054H829"/>
<rect class="r" x="567" y="4980" width="58" height="289"/><rect class="b" x="639" y="5021" width="58" height="248"/><rect class="g" x="712" y="5050" width="57" height="219"/>
<rect class="fr" x="505" y="4946" width="326" height="323"/>
<text class="kC" x="502" y="4964">9.0</text><text class="kC" x="502" y="5068">6.0</text><text class="kC" x="502" y="5175">3.0</text><text class="kC" x="502" y="5281">0</text>
<text class="yB" transform="translate(414 5100) rotate(-90)" y="14">Relative Area/ ×10<tspan dy="-15" font-size="26">-2</tspan></text>
<text class="xB" x="676" y="5311" textLength="195" lengthAdjust="spacingAndGlyphs">AC ALA AL</text>
</g>

<g id="glycocholic">
<text class="tC" x="1015" y="4817" textLength="376" lengthAdjust="spacingAndGlyphs">Glycocholic acid</text>
<path class="gr" d="M1044 5035H1366M1044 4908H1366"/>
<rect class="r" x="1106" y="4910" width="57" height="252"/><rect class="nb" x="1197" y="5155" width="46" height="7"/><rect class="g" x="1274" y="5155" width="48" height="7"/>
<rect class="fr" x="1042" y="4846" width="326" height="316"/>
<text class="nl" x="1197" y="5157" font-size="30" textLength="67" lengthAdjust="spacingAndGlyphs">N.D.</text>
<text class="nl" x="1271" y="5157" font-size="30" textLength="67" lengthAdjust="spacingAndGlyphs">N.D.</text>
<text class="kC" x="1039" y="4922">2.0</text><text class="kC" x="1039" y="5049">1.0</text><text class="kC" x="1039" y="5174">0</text>
<text class="yB" transform="translate(968 5050) rotate(-90)" y="14">Relative Area/ ×10<tspan dy="-15" font-size="26">-4</tspan></text>
<text class="xB" x="1208" y="5207" textLength="192" lengthAdjust="spacingAndGlyphs">AC ALA AL</text>
</g>

<g id="ursodeoxycholic">
<path class="gr" d="M1724 4217H2036M1724 4109H2036"/>
<rect class="r" x="1772" y="4297" width="45" height="29"/><rect class="b" x="1829" y="4147" width="45" height="179"/><rect class="g" x="1887" y="4100" width="44" height="226"/><rect class="p" x="1943" y="4212" width="47" height="114"/>
<rect class="fr" x="1722" y="4000" width="316" height="326"/>
<text class="kC" x="1719" y="4026">4.5</text><text class="kC" x="1719" y="4123">3.0</text><text class="kC" x="1719" y="4231">1.5</text><text class="kC" x="1719" y="4338">0</text>
<text class="yB" transform="translate(1634 4160) rotate(-90)" y="14">Relative Area/ ×10<tspan dy="-15" font-size="26">-4</tspan></text>
<text class="xB" x="1886" y="4368" textLength="266" lengthAdjust="spacingAndGlyphs">AC ALA AL WC</text>
</g>

<g id="lithocholic">
<path class="gr" d="M1725 4696H2033M1725 4615H2033M1725 4535H2033"/>
<rect class="r" x="1772" y="4714" width="45" height="62"/><rect class="b" x="1829" y="4507" width="45" height="269"/><rect class="g" x="1887" y="4484" width="44" height="292"/><rect class="p" x="1943" y="4670" width="45" height="106"/>
<rect class="fr" x="1723" y="4455" width="312" height="321"/>
<text class="kC" x="1720" y="4469">8.0</text><text class="kC" x="1720" y="4549">6.0</text><text class="kC" x="1720" y="4629">4.0</text><text class="kC" x="1720" y="4710">2.0</text><text class="kC" x="1720" y="4788">0</text>
<text class="yB" transform="translate(1645 4615) rotate(-90)" y="14">Relative Area/ ×10<tspan dy="-15" font-size="26">-4</tspan></text>
<text class="xB" x="1886" y="4819" textLength="266" lengthAdjust="spacingAndGlyphs">AC ALA AL WC</text>
</g>

<g id="deoxycholic">
<path class="gr" d="M1720 5119H2031M1720 5011H2031"/>
<rect class="r" x="1767" y="5211" width="47" height="17"/><rect class="b" x="1825" y="5099" width="45" height="129"/><rect class="g" x="1882" y="4988" width="45" height="240"/><rect class="p" x="1938" y="5157" width="47" height="71"/>
<rect class="fr" x="1718" y="4903" width="315" height="325"/>
<text class="kC" x="1715" y="4919">6.0</text><text class="kC" x="1715" y="5025">4.0</text><text class="kC" x="1715" y="5133">2.0</text><text class="kC" x="1715" y="5240">0</text>
<text class="yB" transform="translate(1638 5075) rotate(-90)" y="14">Relative Area/ ×10<tspan dy="-15" font-size="26">-2</tspan></text>
<text class="xB" x="1887" y="5276" textLength="265" lengthAdjust="spacingAndGlyphs">AC ALA AL WC</text>
</g>

<g id="hyodeoxycholic">
<path class="gr" d="M2260 4106H2582M2260 3994H2582"/>
<rect class="r" x="2309" y="4180" width="46" height="37"/><rect class="b" x="2367" y="4046" width="48" height="171"/><rect class="g" x="2427" y="3924" width="47" height="293"/><rect class="p" x="2487" y="4137" width="47" height="80"/>
<rect class="fr" x="2258" y="3883" width="326" height="334"/>
<text class="kC" x="2255" y="3899">3.0</text><text class="kC" x="2255" y="4008">2.0</text><text class="kC" x="2255" y="4120">1.0</text><text class="kC" x="2255" y="4229">0</text>
<text class="yB" transform="translate(2174 4050) rotate(-90)" y="14">Relative Area/ ×10<tspan dy="-15" font-size="26">-3</tspan></text>
<text class="xB" x="2428" y="4254" textLength="263" lengthAdjust="spacingAndGlyphs">AC ALA AL WC</text>
</g>

<g id="tauroursodeoxycholic">
<path class="gr" d="M2265 4672H2587M2265 4590H2587M2265 4508H2587"/>
<rect class="r" x="2313" y="4706" width="46" height="48"/><rect class="b" x="2369" y="4600" width="47" height="154"/><rect class="g" x="2429" y="4535" width="47" height="219"/><rect class="p" x="2487" y="4478" width="48" height="276"/>
<rect class="fr" x="2263" y="4427" width="326" height="327"/>
<text class="kC" x="2260" y="4451">2.0</text><text class="kC" x="2260" y="4522">1.5</text><text class="kC" x="2260" y="4604">1.0</text><text class="kC" x="2260" y="4686">0.5</text><text class="kC" x="2260" y="4766">0</text>
<text class="yB" transform="translate(2178 4590) rotate(-90)" y="14">Relative Area/ ×10<tspan dy="-15" font-size="26">-4</tspan></text>
<text class="xB" x="2431" y="4800" textLength="264" lengthAdjust="spacingAndGlyphs">AC ALA AL WC</text>
</g>

<g id="taurodeoxycholic">
<path class="gr" d="M2266 5151H2575M2266 5041H2575"/>
<rect class="r" x="2313" y="5243" width="46" height="18"/><rect class="b" x="2368" y="5046" width="46" height="215"/><rect class="g" x="2424" y="5006" width="45" height="255"/><rect class="p" x="2479" y="5165" width="45" height="96"/>
<rect class="fr" x="2264" y="4931" width="313" height="330"/>
<text class="kC" x="2261" y="4951">6.0</text><text class="kC" x="2261" y="5055">4.0</text><text class="kC" x="2261" y="5165">2.0</text><text class="kC" x="2261" y="5273">0</text>
<text class="yB" transform="translate(2186 5095) rotate(-90)" y="14">Relative Area/ ×10<tspan dy="-15" font-size="26">-4</tspan></text>
<text class="xB" x="2424" y="5302" textLength="260" lengthAdjust="spacingAndGlyphs">AC ALA AL WC</text>
</g>

<g id="connectorsC">
<path class="l7" d="M294 4189V3827H427" marker-end="url(#ah)"/>
<path class="l7" d="M296 4508V4631H385" marker-end="url(#ah)"/>
<path class="l7" d="M954 3824H1637" marker-end="url(#ah)"/>
<path class="l7" d="M1557 3824V4419H1665" marker-end="url(#ah)"/>
<path class="l7" d="M1557 3958H1658" marker-end="url(#ah)"/>
<path class="l7" d="M2035 3827H2173" marker-end="url(#ah)"/>
<path class="l7" d="M749 3873V3952" marker-start="url(#ah)" marker-end="url(#ah)"/>
<path class="l7" d="M749 3913H862" marker-end="url(#ah)"/>
<path class="l7" d="M781 4344V4415" marker-start="url(#ah)" marker-end="url(#ah)"/>
<path class="l7" d="M781 4384H935" marker-end="url(#ah)"/>
<path class="l7" d="M777 4849V4923" marker-start="url(#ah)" marker-end="url(#ah)"/>
<path class="l7" d="M777 4893H950" marker-end="url(#ah)"/>
<path class="l7" d="M854 4588L1623 4849" marker-end="url(#ah)"/>
<path class="l7" d="M2083 3992V4335H2217" marker-end="url(#ah)"/>
<path class="l7" d="M2066 4872H2207" marker-end="url(#ah)"/>
</g>
</svg>
